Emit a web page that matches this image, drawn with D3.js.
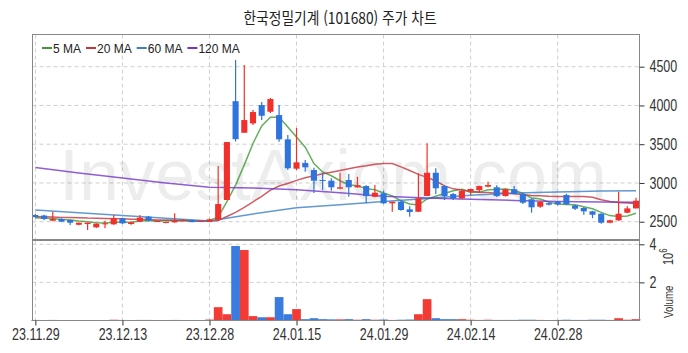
<!DOCTYPE html>
<html lang="ko">
<head>
  <meta charset="utf-8" />
  <title>한국정밀기계 (101680) 주가 차트</title>
  <script src="https://cdn.jsdelivr.net/npm/d3@7"></script>
  <style>
    body { margin: 0; background: #fff; }
    .tick text { font-family: "Liberation Sans", sans-serif; font-size: 16px; fill: #333; }
    .tick line { stroke: #333; }
    .domain { display: none; }
  </style>
</head>
<body>
<script>
  // trading days shown on the chart
  var dates = ["23.11.29","23.11.30","23.12.01","23.12.04","23.12.05","23.12.06","23.12.07","23.12.08","23.12.11","23.12.12",
               "23.12.13","23.12.14","23.12.15","23.12.18","23.12.19","23.12.20","23.12.21","23.12.22","23.12.26","23.12.27",
               "23.12.28","24.01.02","24.01.03","24.01.04","24.01.05","24.01.08","24.01.09","24.01.10","24.01.11","24.01.12",
               "24.01.15","24.01.16","24.01.17","24.01.18","24.01.19","24.01.22","24.01.23","24.01.24","24.01.25","24.01.26",
               "24.01.29","24.01.30","24.01.31","24.02.01","24.02.02","24.02.05","24.02.06","24.02.07","24.02.08","24.02.13",
               "24.02.14","24.02.15","24.02.16","24.02.19","24.02.20","24.02.21","24.02.22","24.02.23","24.02.26","24.02.27",
               "24.02.28","24.02.29","24.03.04","24.03.05","24.03.06","24.03.07","24.03.08","24.03.11","24.03.12","24.03.13"];

  var open  = [2586,2580,2513,2535,2522,2461,2470,2428,2466,2466, 2544,2470,2500,2565,2500,2487,2492,2513,2522,2500,
               2500,2522,2780,4055,3648,3769,4005,3919,3876,3563, 3184,3257,3167,3038,3029,2926,3038,2944,2960,2822,
               2866,2737,2758,2660,2629,2832,3132,2960,2857,2802, 2896,2909,2952,2944,2831,2918,2857,2789,2694,2740,
               2758,2844,2711,2677,2634,2603,2487,2518,2616,2672];
  var high  = [2600,2590,2629,2545,2530,2490,2490,2480,2513,2586, 2550,2500,2586,2575,2515,2500,2608,2530,2530,2515,
               2540,3218,3528,4586,4521,3941,4044,4096,4005,3618, 3709,3296,3196,3132,3060,3132,3115,3080,2970,2973,
               2900,2760,2780,2700,3124,3511,3189,2970,2870,2910, 2930,2965,3016,2970,2930,2960,2860,2800,2765,2750,
               2770,2860,2720,2690,2640,2610,2525,2887,2700,2810];
  var low   = [2550,2520,2505,2495,2457,2455,2393,2420,2415,2460, 2470,2460,2495,2505,2495,2480,2488,2505,2490,2495,
               2495,2510,2780,3535,3648,3748,3812,3902,3532,3167, 3167,3145,2870,2909,2900,2920,2823,2940,2737,2815,
               2730,2629,2640,2565,2625,2832,2857,2780,2780,2795, 2840,2880,2945,2820,2825,2850,2730,2616,2680,2710,
               2710,2715,2650,2590,2545,2475,2480,2510,2610,2672];
  var close = [2560,2535,2535,2500,2487,2487,2487,2474,2479,2544, 2479,2492,2552,2513,2509,2496,2513,2526,2496,2509,
               2531,2728,3528,3565,3812,3915,3867,4083,3563,3189, 3266,3202,3029,3025,2944,2944,2944,2970,2831,2874,
               2737,2758,2651,2625,2802,3132,2931,2831,2802,2896, 2922,2960,2973,2831,2918,2857,2745,2686,2758,2720,
               2724,2724,2668,2634,2590,2487,2518,2603,2672,2771];
  // volume, millions of shares
  var volume = [0.03,0.02,0.03,0.02,0.02,0.01,0.02,0.02,0.02,0.04, 0.03,0.02,0.03,0.03,0.02,0.01,0.03,0.02,0.02,0.02,
                0.05,0.70,0.33,3.91,3.70,0.23,0.17,0.17,1.23,0.33, 0.60,0.07,0.12,0.07,0.06,0.06,0.07,0.04,0.07,0.04,
                0.05,0.03,0.04,0.05,0.33,1.12,0.12,0.07,0.07,0.07, 0.04,0.03,0.04,0.03,0.03,0.03,0.04,0.04,0.03,0.02,
                0.03,0.04,0.03,0.03,0.04,0.04,0.03,0.12,0.04,0.07];

  // moving averages
  var ma5  = [2550,2545,2540,2530,2523,2509,2499,2487,2483,2494, 2493,2494,2509,2516,2509,2512,2517,2511,2508,2508,
              2515,2558,2758,2972,3233,3510,3737,3848,3848,3723, 3594,3461,3250,3142,3093,3029,2977,2965,2927,2913,
              2871,2834,2770,2729,2715,2794,2828,2864,2900,2918, 2876,2882,2911,2916,2921,2908,2865,2807,2793,2753,
              2727,2722,2719,2694,2668,2621,2579,2566,2574,2610];
  var ma20 = [2565,2563,2560,2556,2555,2551,2547,2546,2542,2538, 2537,2533,2531,2528,2523,2521,2519,2515,2512,2509,
              2507,2517,2567,2620,2686,2757,2826,2907,2961,2993, 3033,3068,3092,3118,3139,3162,3183,3206,3222,3241,
              3251,3252,3208,3161,3111,3072,3025,2962,2924,2910, 2893,2880,2878,2868,2867,2862,2852,2838,2834,2827,
              2826,2824,2825,2826,2815,2783,2762,2749,2742,2736];
  var maIdx = [0,5,10,15,20,25,30,35,40,45,50,55,60,65,69];
  var ma60  = [2650,2615,2580,2545,2510,2600,2680,2720,2760,2800,2840,2870,2885,2895,2900];
  var ma120 = [3200,3130,3065,3000,2945,2935,2912,2875,2830,2805,2790,2775,2762,2755,2750];

  var priceTicks = [2500,3000,3500,4000,4500];
  var volTicks = [2,4];
  var dateTicks = [0,10,20,30,40,50,60];

  var maNames = ["5 MA","20 MA","60 MA","120 MA"];
  var maColors = ["#3f9a35","#c2343f","#3a80c6","#7436c8"];

  var up = "#f2302b", down = "#2e74dc";

  var w = 688, h = 353;
  var left = 32.5, right = 639.5;
  var pTop = 34.5, pBottom = 239.5, vTop = 240.5, vBottom = 320.5;
  var sx = 0.78; // narrow text

  var svg = d3.select("body").append("svg")
      .attr("width", w)
      .attr("height", h);

  var x = d3.scaleLinear().domain([-0.33, 69.4]).range([left, right]);
  var y = d3.scaleLinear().domain([2277, 4922]).range([239, 34]);
  var yv = d3.scaleLinear().domain([0, 4.2]).range([vBottom, vTop]);
  var step = x(1) - x(0);

  // title
  svg.append("text")
      .attr("transform", "translate(340,24) scale(0.86,1)")
      .attr("text-anchor", "middle")
      .attr("font-family", "Noto Sans CJK KR")
      .attr("font-size", "16px")
      .attr("fill", "#222")
      .text("한국정밀기계 (101680) 주가 차트");

  // grid
  var grid = svg.append("g")
      .attr("stroke", "#cfcfcf")
      .attr("stroke-dasharray", "4,3");
  grid.selectAll("line.vp").data(dateTicks).enter().append("line")
      .attr("x1", function(d) { return x(d); }).attr("x2", function(d) { return x(d); })
      .attr("y1", pTop).attr("y2", pBottom);
  grid.selectAll("line.vv").data(dateTicks).enter().append("line")
      .attr("x1", function(d) { return x(d); }).attr("x2", function(d) { return x(d); })
      .attr("y1", vTop).attr("y2", vBottom);
  grid.selectAll("line.hp").data(priceTicks).enter().append("line")
      .attr("x1", left).attr("x2", right)
      .attr("y1", function(d) { return y(d); }).attr("y2", function(d) { return y(d); });
  grid.selectAll("line.hv").data(volTicks).enter().append("line")
      .attr("x1", left).attr("x2", right)
      .attr("y1", function(d) { return yv(d); }).attr("y2", function(d) { return yv(d); });

  // watermark
  svg.append("text")
      .attr("x", 333).attr("y", 200)
      .attr("text-anchor", "middle")
      .attr("font-family", "Liberation Sans")
      .attr("font-size", "72px")
      .attr("fill", "#000")
      .attr("fill-opacity", 0.07)
      .text("InvestAxiom.com");

  // moving average lines
  var idx = d3.range(dates.length);
  var line = d3.line()
      .x(function(d) { return x(d[0]); })
      .y(function(d) { return y(d[1]); });
  var maSeries = [
    idx.map(function(i) { return [i, ma5[i]]; }),
    idx.map(function(i) { return [i, ma20[i]]; }),
    maIdx.map(function(i, k) { return [i, ma60[k]]; }),
    maIdx.map(function(i, k) { return [i, ma120[k]]; })
  ];
  svg.selectAll("path.ma").data(maSeries).enter().append("path")
      .attr("class", "ma")
      .attr("d", line)
      .attr("fill", "none")
      .attr("stroke", function(d, i) { return maColors[i]; })
      .attr("stroke-opacity", 0.8)
      .attr("stroke-width", 1.5);

  // candles
  var candles = svg.selectAll("g.candle").data(idx).enter().append("g");
  candles.append("line")
      .attr("x1", function(i) { return x(i); }).attr("x2", function(i) { return x(i); })
      .attr("y1", function(i) { return y(high[i]); })
      .attr("y2", function(i) { return y(low[i]); })
      .attr("stroke", function(i) { return close[i] >= open[i] ? up : down; })
      .attr("stroke-width", 1.2);
  candles.append("rect")
      .attr("x", function(i) { return x(i) - step * 0.35; })
      .attr("width", step * 0.7)
      .attr("y", function(i) { return y(Math.max(open[i], close[i])); })
      .attr("height", function(i) { return Math.max(1, Math.abs(y(open[i]) - y(close[i]))); })
      .attr("fill", function(i) { return close[i] >= open[i] ? up : down; });

  // volume bars
  svg.selectAll("rect.vol").data(idx).enter().append("rect")
      .attr("x", function(i) { return x(i) - step / 2; })
      .attr("width", step)
      .attr("y", function(i) { return yv(volume[i]); })
      .attr("height", function(i) { return vBottom - yv(volume[i]); })
      .attr("fill", function(i) { return close[i] >= open[i] ? up : down; })
      .attr("fill-opacity", 0.95);

  // frames
  svg.append("rect").attr("x", left).attr("y", pTop)
      .attr("width", right - left).attr("height", pBottom - pTop)
      .attr("fill", "none").attr("stroke", "#888");
  svg.append("rect").attr("x", left).attr("y", vTop)
      .attr("width", right - left).attr("height", vBottom - vTop)
      .attr("fill", "none").attr("stroke", "#888");

  // axes
  var ya = svg.append("g")
      .attr("transform", "translate(" + right + ",0)")
      .call(d3.axisRight(y).tickValues(priceTicks).tickSize(5).tickFormat(d3.format("d")));
  var va = svg.append("g")
      .attr("transform", "translate(" + right + ",0)")
      .call(d3.axisRight(yv).tickValues(volTicks).tickSize(5).tickFormat(d3.format("d")));
  [ya, va].forEach(function(g) {
    g.selectAll("text").attr("x", 10 / sx).attr("transform", "scale(" + sx + ",1)");
  });
  var xa = svg.append("g")
      .attr("transform", "translate(0," + vBottom + ")")
      .call(d3.axisBottom(x).tickValues(dateTicks).tickSize(5).tickPadding(3)
        .tickFormat(function(d) { return dates[d]; }));
  xa.selectAll("text").attr("transform", "scale(" + sx + ",1)");

  // volume axis label
  svg.append("text")
      .attr("transform", "translate(673,318) rotate(-90) scale(0.75,1)")
      .attr("font-family", "Liberation Sans")
      .attr("font-size", "13px")
      .attr("fill", "#333")
      .text("Volume");
  var pw = svg.append("text")
      .attr("transform", "translate(673,265) rotate(-90) scale(0.78,1)")
      .attr("font-family", "Liberation Sans")
      .attr("font-size", "14px")
      .attr("fill", "#333");
  pw.append("tspan").text("10");
  pw.append("tspan").attr("dy", -6).attr("font-size", "10px").text("6");

  // legend
  var lx = 42;
  maNames.forEach(function(name, i) {
    svg.append("line")
        .attr("x1", lx).attr("x2", lx + 10)
        .attr("y1", 48).attr("y2", 48)
        .attr("stroke", maColors[i]).attr("stroke-width", 2);
    var t = svg.append("text")
        .attr("x", lx + 11).attr("y", 52.5)
        .attr("font-family", "Liberation Sans")
        .attr("font-size", "12px")
        .attr("fill", "#222")
        .text(name);
    lx += 11 + t.node().getComputedTextLength() + 5;
  });
</script>
</body>
</html>
